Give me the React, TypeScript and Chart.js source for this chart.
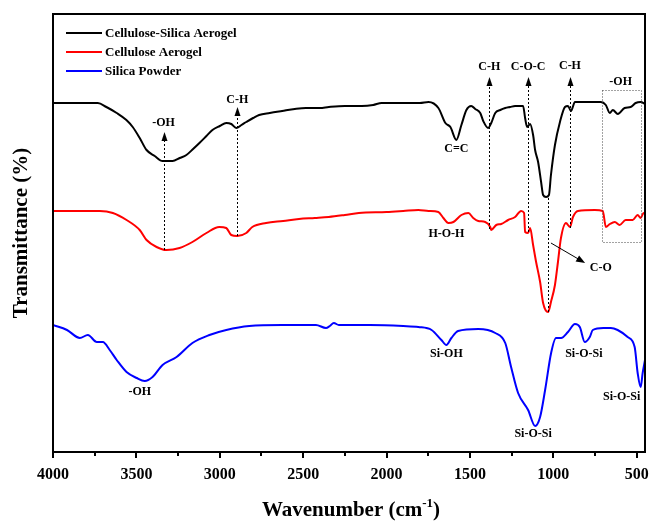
import React, { useEffect, useRef } from "react";
import { Chart, registerables } from "chart.js";
Chart.register(...registerables);

// ---- Data (wavenumber in cm-1, offset transmittance in arbitrary units) ----
const seriesNames = ["Cellulose-Silica Aerogel", "Cellulose Aerogel", "Silica Powder"];
const seriesColors = ["#000000", "#ff0000", "#0000ff"];

const csaWave = [4000,3900,3800,3731,3680,3618,3560,3522,3480,3439,3390,3343,3283,3240,3200,3160,3122,3080,3044,3000,2961,2931,2901,2870,2841,2800,2764,2700,2626,2550,2483,2400,2346,2250,2148,2080,2029,1900,1800,1748,1689,1647,1617,1581,1551,1521,1492,1468,1438,1420,1390,1372,1348,1318,1288,1259,1229,1181,1169,1157,1139,1121,1109,1091,1073,1061,1043,1026,1014,990,960,930,912,894,870,793,715,685,661,643,613,572,536,506,476,450];
const csaVal = [349,349,349,349,345,339,332,325,314,302,296,291,291,294,297,303,309,316,322,326,329,328,324,327,330,334,337,339,341,343,344,344,345,346,346,347,349,349,349,350,344,329,325,312,327,342,346,343,339,331,324,329,339,342,344,345,346,346,334,325,328,317,302,290,270,257,255,257,277,307,330,345,346,341,350,350,350,347,339,342,338,344,345,349,350,348];

const caWave = [4000,3850,3719,3641,3559,3480,3439,3379,3320,3241,3164,3080,3003,2961,2931,2895,2841,2805,2722,2620,2525,2430,2346,2250,2166,2000,1900,1809,1748,1689,1659,1629,1599,1551,1509,1480,1450,1408,1378,1372,1342,1312,1271,1229,1193,1175,1169,1151,1139,1121,1103,1079,1061,1031,1014,990,972,954,924,900,882,852,751,703,685,661,631,602,566,524,494,476,458,450];
const caVal = [241,241,241,239,232,222,212,205,202,204,210,219,225,224,217,216,219,225,229,231,233,234,235,237,239,240,241,242,241,240,234,229,230,237,239,234,231,230,225,222,227,228,232,235,241,239,220,219,224,207,190,170,149,140,150,167,190,214,229,225,235,241,242,241,225,228,230,227,232,232,237,234,239,238];

const spWave = [4000,3916,3839,3791,3737,3701,3660,3618,3559,3498,3450,3403,3343,3259,3164,3062,2961,2823,2626,2423,2363,2340,2316,2286,2100,1900,1809,1730,1671,1641,1611,1571,1450,1348,1288,1253,1211,1151,1109,1079,1049,1013,984,953,912,870,841,811,781,763,700,655,614,554,512,494,476,464,450];
const spVal = [127,122,114,117,110,110,102,92,80,74,71,75,87,95,109,117,122,126,127,127,124,126,129,127,127,126,125,122,112,107,114,121,123,119,109,85,59,42,26,35,62,99,114,114,120,128,125,110,115,122,124,124,122,115,105,79,65,79,92];

const xTickValues = [4000,3500,3000,2500,2000,1500,1000,500];
const xMinorValues = [3750,3250,2750,2250,1750,1250,750];

// ---- Annotations (data coordinates) ----
const labelText = ["-OH","C-H","C=C","C-H","C-O-C","C-H","-OH","H-O-H","C-O","Si-OH","Si-O-Si","Si-O-Si","Si-O-Si","-OH"];
const labelWave = [3337,2895,1581,1384,1151,900,596,1641,715,1641,1121,817,590,3480];
const labelVal = [329,352,303,385,385,386,370,218,184,98,18,98,55,60];

const guideWave = [3337,2895,1384,1151,900,1031];
const guideFrom = [202,216,223,220,224,254];
const guideTo = [320,345,375,375,375,140];
const guideArrow = [true,true,true,true,true,false];

const coArrowWave = [1014, 809];
const coArrowVal = [209, 189];

const boxWave = [709, 476];
const boxVal = [210, 362];

const FONT = "'Liberation Serif', 'Times New Roman', serif";

function toPts(w: number[], v: number[]) {
  return w.map((x, i) => ({ x, y: v[i] }));
}

const decorPlugin = {
  id: "decor",
  afterDatasetsDraw(chart: any) {
    const { ctx, chartArea: a, scales } = chart;
    const x = scales.x, y = scales.y;
    ctx.save();
    // dashed guides
    ctx.strokeStyle = "#000";
    ctx.fillStyle = "#000";
    ctx.lineWidth = 1;
    for (let i = 0; i < guideWave.length; i++) {
      const px = Math.round(x.getPixelForValue(guideWave[i])) + 0.5;
      const y1 = y.getPixelForValue(guideFrom[i]);
      const y2 = y.getPixelForValue(guideTo[i]);
      ctx.setLineDash([2, 2]);
      ctx.beginPath();
      ctx.moveTo(px, y1);
      ctx.lineTo(px, guideArrow[i] ? y2 + 6 : y2);
      ctx.stroke();
      ctx.setLineDash([]);
      if (guideArrow[i]) {
        ctx.beginPath();
        ctx.moveTo(px, y2);
        ctx.lineTo(px - 3, y2 + 9);
        ctx.lineTo(px + 3, y2 + 9);
        ctx.closePath();
        ctx.fill();
      }
    }
    // C-O arrow
    {
      const x1 = x.getPixelForValue(coArrowWave[0]);
      const y1 = y.getPixelForValue(coArrowVal[0]);
      const x2 = x.getPixelForValue(coArrowWave[1]);
      const y2 = y.getPixelForValue(coArrowVal[1]);
      const ang = Math.atan2(y2 - y1, x2 - x1);
      ctx.beginPath();
      ctx.moveTo(x1, y1);
      ctx.lineTo(x2 - 6 * Math.cos(ang), y2 - 6 * Math.sin(ang));
      ctx.stroke();
      ctx.beginPath();
      ctx.moveTo(x2, y2);
      ctx.lineTo(x2 - 9 * Math.cos(ang) + 3.5 * Math.sin(ang), y2 - 9 * Math.sin(ang) - 3.5 * Math.cos(ang));
      ctx.lineTo(x2 - 9 * Math.cos(ang) - 3.5 * Math.sin(ang), y2 - 9 * Math.sin(ang) + 3.5 * Math.cos(ang));
      ctx.closePath();
      ctx.fill();
    }
    // dotted box
    {
      const bx1 = Math.round(x.getPixelForValue(boxWave[0])) + 0.5;
      const bx2 = Math.round(x.getPixelForValue(boxWave[1])) + 0.5;
      const by1 = Math.round(y.getPixelForValue(boxVal[1])) + 0.5;
      const by2 = Math.round(y.getPixelForValue(boxVal[0])) + 0.5;
      ctx.strokeStyle = "#444";
      ctx.setLineDash([1, 2]);
      ctx.strokeRect(bx1, by1, bx2 - bx1, by2 - by1);
      ctx.setLineDash([]);
    }
    // labels
    ctx.fillStyle = "#000";
    ctx.font = `bold 12px ${FONT}`;
    ctx.textAlign = "center";
    ctx.textBaseline = "middle";
    for (let i = 0; i < labelText.length; i++) {
      ctx.fillText(labelText[i], x.getPixelForValue(labelWave[i]), y.getPixelForValue(labelVal[i]));
    }
    // legend
    ctx.font = `bold 13px ${FONT}`;
    ctx.textAlign = "left";
    const legY = [33, 52, 71];
    for (let i = 0; i < seriesNames.length; i++) {
      ctx.strokeStyle = seriesColors[i];
      ctx.lineWidth = 2;
      ctx.beginPath();
      ctx.moveTo(a.left + 13, legY[i]);
      ctx.lineTo(a.left + 49, legY[i]);
      ctx.stroke();
      ctx.fillStyle = "#000";
      ctx.fillText(seriesNames[i], a.left + 52, legY[i] + 1);
    }
    // frame
    ctx.strokeStyle = "#000";
    ctx.lineWidth = 2;
    ctx.strokeRect(a.left, a.top, a.right - a.left, a.bottom - a.top);
    // ticks
    ctx.lineWidth = 2;
    for (const v of xTickValues) {
      const px = Math.round(x.getPixelForValue(v));
      ctx.beginPath();
      ctx.moveTo(px, a.bottom);
      ctx.lineTo(px, a.bottom + 6);
      ctx.stroke();
    }
    for (const v of xMinorValues) {
      const px = Math.round(x.getPixelForValue(v));
      ctx.beginPath();
      ctx.moveTo(px, a.bottom);
      ctx.lineTo(px, a.bottom + 4);
      ctx.stroke();
    }
    // x title with superscript
    ctx.fillStyle = "#000";
    ctx.textBaseline = "alphabetic";
    ctx.textAlign = "left";
    const t1 = "Wavenumber (cm";
    const t2 = "-1";
    const t3 = ")";
    ctx.font = `bold 21px ${FONT}`;
    const w1 = ctx.measureText(t1).width;
    const w3 = ctx.measureText(t3).width;
    ctx.font = `bold 13px ${FONT}`;
    const w2 = ctx.measureText(t2).width;
    const total = w1 + w2 + w3;
    const cx = (a.left + a.right) / 2 + 2;
    let sx = cx - total / 2;
    const base = 516;
    ctx.font = `bold 21px ${FONT}`;
    ctx.fillText(t1, sx, base);
    sx += w1;
    ctx.font = `bold 13px ${FONT}`;
    ctx.fillText(t2, sx, base - 9);
    sx += w2;
    ctx.font = `bold 21px ${FONT}`;
    ctx.fillText(t3, sx, base);
    // y title
    ctx.save();
    ctx.translate(27, (a.top + a.bottom) / 2);
    ctx.rotate(-Math.PI / 2);
    ctx.textAlign = "center";
    ctx.font = `bold 21px ${FONT}`;
    ctx.fillText("Transmittance (%)", 0, 0);
    ctx.restore();
    ctx.restore();
  },
};

export default function App() {
  const ref = useRef<HTMLCanvasElement | null>(null);
  useEffect(() => {
    if (!ref.current) return;
    const chart = new Chart(ref.current, {
      type: "line",
      data: {
        datasets: [
          { label: seriesNames[0], data: toPts(csaWave, csaVal), borderColor: seriesColors[0] },
          { label: seriesNames[1], data: toPts(caWave, caVal), borderColor: seriesColors[1] },
          { label: seriesNames[2], data: toPts(spWave, spVal), borderColor: seriesColors[2] },
        ].map((d) => ({ ...d, borderWidth: 2, pointRadius: 0, cubicInterpolationMode: "monotone", fill: false })),
      },
      options: {
        animation: false,
        responsive: false,
        devicePixelRatio: 1,
        layout: { padding: { left: 53, top: 14, right: 6, bottom: 0 } },
        plugins: { legend: { display: false }, tooltip: { enabled: false } },
        scales: {
          x: {
            type: "linear",
            reverse: true,
            min: 450,
            max: 4000,
            afterBuildTicks: (s: any) => {
              s.ticks = xTickValues.map((v) => ({ value: v }));
            },
            afterFit: (s: any) => {
              s.height = 69;
              s.paddingLeft = 0;
              s.paddingRight = 0;
            },
            grid: { display: false, drawTicks: false },
            border: { display: false },
            ticks: {
              color: "#000",
              font: { family: FONT, size: 16, weight: "bold" },
              padding: 13,
              maxRotation: 0,
              autoSkip: false,
              callback: (v: any) => String(v),
            },
          },
          y: { display: false, min: 0, max: 438 },
        },
      },
      plugins: [decorPlugin],
    } as any);
    return () => chart.destroy();
  }, []);
  return (
    <div style={{ position: "fixed", left: 0, top: 0, width: 651, height: 521, background: "#fff" }}>
      <canvas ref={ref} width={651} height={521} />
    </div>
  );
}
